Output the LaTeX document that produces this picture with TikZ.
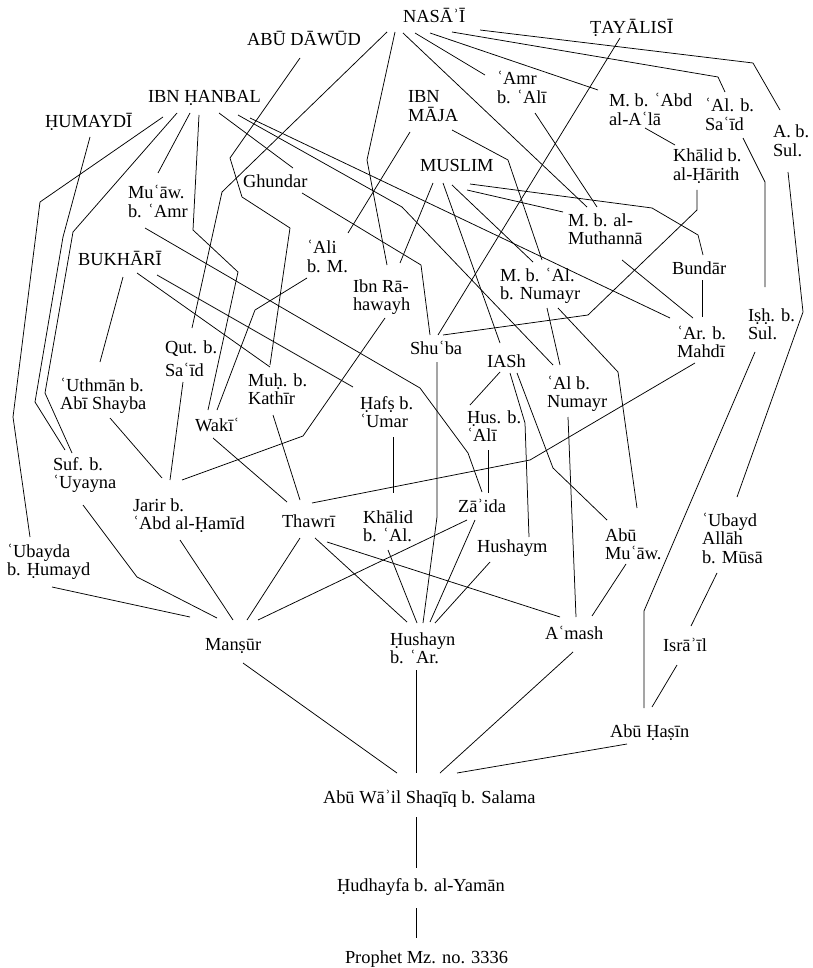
\documentclass[tikz,border=0pt]{standalone}
\usepackage{fontspec}
\setmainfont{Liberation Serif}
\usetikzlibrary{calc}
% invisible strut so every label's top edge sits a fixed 17pt above its first baseline
\newcommand\topstrut{\rule{0pt}{17pt}}
\begin{document}
\begin{tikzpicture}[x=1pt,y=-1pt,
  lbl/.style={anchor=north west,inner sep=0pt,outer sep=0pt,align=left,
              font=\fontsize{18.4}{18.5}\selectfont},
  link/.style={line width=0.75pt,line join=round}]
\useasboundingbox (0,0) rectangle (812,968);

% ---- transmitters and collectors ----
\node[lbl] (nasai)      at (403,6)   {\topstrut NASĀʾĪ};
\node[lbl] (tayalisi)   at (590,17)  {\topstrut ṬAYĀLISĪ};
\node[lbl] (abudawud)   at (247,29)  {\topstrut ABŪ DĀWŪD};
\node[lbl] (hanbal)     at (148,86)  {\topstrut IBN ḤANBAL};
\node[lbl] (humaydi)    at (45,111)  {\topstrut ḤUMAYDĪ};
\node[lbl] (majah)      at (408,86)  {\topstrut IBN\\MĀJA};
\node[lbl] (amr)        at (497,68)  {\topstrut ʿAmr\\b. ʿAlī};
\node[lbl] (abdala)     at (609,90)  {\topstrut M. b. ʿAbd\\al-Aʿlā};
\node[lbl] (alsaid)     at (705,95)  {\topstrut ʿAl. b.\\Saʿīd};
\node[lbl] (absul)      at (773,121) {\topstrut A. b.\\Sul.};
\node[lbl] (khalidh)    at (673,145) {\topstrut Khālid b.\\al-Ḥārith};
\node[lbl] (muslim)     at (420,155) {\topstrut MUSLIM};
\node[lbl] (ghundar)    at (243,171) {\topstrut Ghundar};
\node[lbl] (muaw)       at (128,182) {\topstrut Muʿāw.\\b. ʿAmr};
\node[lbl] (muthanna)   at (568,209) {\topstrut M. b. al-\\Muthannā};
\node[lbl] (alim)       at (307,237) {\topstrut ʿAli\\b. M.};
\node[lbl] (bukhari)    at (78,248)  {\topstrut BUKHĀRĪ};
\node[lbl] (rahawayh)   at (353,275) {\topstrut Ibn Rā-\\hawayh};
\node[lbl] (bundar)     at (672,257) {\topstrut Bundār};
\node[lbl] (mnumayr)    at (500,264) {\topstrut M. b. ʿAl.\\b. Numayr};
\node[lbl] (ishsul)     at (748,304) {\topstrut Iṣḥ. b.\\Sul.};
\node[lbl] (mahdi)      at (677,322) {\topstrut ʿAr. b.\\Mahdī};
\node[lbl] (shuba)      at (410,337) {\topstrut Shuʿba};
\node[lbl] (iash)       at (487,350) {\topstrut IASh};
\node[lbl] (alnumayr)   at (547,372) {\topstrut ʿAl b.\\Numayr};
\node[lbl] (qut)        at (165,336) {\topstrut Qut. b.\\[4.5pt]Saʿīd};
\node[lbl] (kathir)     at (248,369) {\topstrut Muḥ. b.\\Kathīr};
\node[lbl] (uthman)     at (60,374)  {\topstrut ʿUthmān b.\\Abī Shayba};
\node[lbl] (hafs)       at (360,392) {\topstrut Ḥafṣ b.\\ʿUmar};
\node[lbl] (husali)     at (467,406) {\topstrut Ḥus. b.\\ʿAlī};
\node[lbl] (waki)       at (195,414) {\topstrut Wakīʿ};
\node[lbl] (sufyan)     at (53,453)  {\topstrut Suf. b.\\ʿUyayna};
\node[lbl] (jarir)      at (133,494) {\topstrut Jarir b.\\ʿAbd al-Ḥamīd};
\node[lbl] (thawri)     at (282,510) {\topstrut Thawrī};
\node[lbl] (khalidal)   at (363,506) {\topstrut Khālid\\b. ʿAl.};
\node[lbl] (zaida)      at (458,495) {\topstrut Zāʾida};
\node[lbl] (hushaym)    at (477,535) {\topstrut Hushaym};
\node[lbl] (abumuaw)    at (605,524) {\topstrut Abū\\Muʿāw.};
\node[lbl] (ubaydallah) at (702,509) {\topstrut ʿUbayd\\Allāh\\b. Mūsā};
\node[lbl] (ubayda)     at (7,540)   {\topstrut ʿUbayda\\b. Ḥumayd};
\node[lbl] (mansur)     at (205,633) {\topstrut Manṣūr};
\node[lbl] (hushayn)    at (390,628) {\topstrut Ḥushayn\\b. ʿAr.};
\node[lbl] (amash)      at (545,622) {\topstrut Aʿmash};
\node[lbl] (israil)     at (663,634) {\topstrut Isrāʾīl};
\node[lbl] (abuhasin)   at (610,720) {\topstrut Abū Ḥaṣīn};
\node[lbl] (abuwail)    at (323,786) {\topstrut Abū Wāʾil Shaqīq b. Salama};
\node[lbl] (hudhayfa)   at (337,874) {\topstrut Ḥudhayfa b. al-Yamān};
\node[lbl] (prophet)    at (345,946) {\topstrut Prophet Mz. no. 3336};

% ---- chains of transmission ----
\draw[link] ($(hudhayfa.north west)+(79,34)$) -- ($(prophet.north west)+(71,-8)$);
\draw[link] ($(abuwail.north west)+(93,31)$) -- ($(hudhayfa.north west)+(79,-6)$);
\draw[link] ($(mansur.north west)+(38,30)$) -- ($(abuwail.north west)+(74,-13)$);
\draw[link] ($(hushayn.north west)+(26,42)$) -- ($(abuwail.north west)+(93,-13)$);
\draw[link] ($(amash.north west)+(28,30)$) -- ($(abuwail.north west)+(117,-13)$);
\draw[link] ($(abuhasin.north west)+(17,24)$) -- ($(abuwail.north west)+(134,-13)$);
\draw[link] ($(ishsul.north west)+(7,48)$) -- (644,611) -- ($(abuhasin.north west)+(34,-12)$);
\draw[link] ($(israil.north west)+(14,31)$) -- ($(abuhasin.north west)+(42,-13)$);
\draw[link] ($(ubaydallah.north west)+(15,64)$) -- ($(israil.north west)+(28,-8)$);
\draw[link] ($(absul.north west)+(15,51)$) -- (803,312) -- ($(ubaydallah.north west)+(35,-12)$);
\draw[link] ($(alsaid.north west)+(38,43)$) -- (765,182) -- ($(ishsul.north west)+(17,-17)$);
\draw[link] ($(nasai.north west)+(77,24)$) -- (753,63) -- ($(absul.north west)+(7,-11)$);
\draw[link] ($(nasai.north west)+(49,26)$) -- (718,77) -- ($(alsaid.north west)+(20,-3)$);
\draw[link] ($(nasai.north west)+(27,27)$) -- ($(abdala.north west)+(-11,0)$);
\draw[link] ($(nasai.north west)+(12,27)$) -- ($(amr.north west)+(-12,7)$);
\draw[link] ($(nasai.north west)+(0,27)$) -- ($(muthanna.north west)+(19,-2)$);
\draw[link] ($(amr.north west)+(38,45)$) -- ($(muthanna.north west)+(29,-2)$);
\draw[link] ($(nasai.north west)+(-8,26)$) -- (367,160) -- ($(rahawayh.north west)+(34,-10)$);
\draw[link] ($(nasai.north west)+(-16,26)$) -- (222,192) -- ($(qut.north west)+(27,-8)$);
\draw[link] ($(abdala.north west)+(36,38)$) -- ($(khalidh.north west)+(2,0)$);
\draw[link] ($(khalidh.north west)+(24,45)$) -- (697,210) -- (588,315) -- ($(shuba.north west)+(33,-2)$);
\draw[link] ($(tayalisi.north west)+(30,21)$) -- ($(shuba.north west)+(28,-2)$);
\draw[link] ($(ghundar.north west)+(59,22)$) -- (421,265) -- ($(shuba.north west)+(20,-2)$);
\draw[link] ($(hanbal.north west)+(71,27)$) -- ($(ghundar.north west)+(50,-3)$);
\draw[link] ($(abudawud.north west)+(53,29)$) -- (230,158) -- (242,197) -- (290,228) -- ($(kathir.north west)+(22,-4)$);
\draw[link] ($(hanbal.north west)+(51,29)$) -- (193,230) -- (238,272) -- ($(waki.north west)+(13,-4)$);
\draw[link] ($(alim.north west)+(0,41)$) -- (255,310) -- ($(waki.north west)+(22,-4)$);
\draw[link] ($(hanbal.north west)+(42,27)$) -- ($(muaw.north west)+(30,-9)$);
\draw[link] ($(hanbal.north west)+(29,27)$) -- (73,232) -- (45,393) -- ($(sufyan.north west)+(19,0)$);
\draw[link] ($(humaydi.north west)+(45,26)$) -- (63,237) -- (35,402) -- ($(sufyan.north west)+(12,-3)$);
\draw[link] ($(hanbal.north west)+(15,31)$) -- (40,202) -- (13,417) -- ($(ubayda.north west)+(23,-3)$);
\draw[link] ($(hanbal.north west)+(90,29)$) -- (402,207) -- ($(alnumayr.north west)+(6,-7)$);
\draw[link] ($(hanbal.north west)+(102,32)$) -- ($(mahdi.north west)+(-7,-4)$);
\draw[link] ($(majah.north west)+(2,46)$) -- ($(alim.north west)+(41,-4)$);
\draw[link] ($(majah.north west)+(44,44)$) -- (508,160) -- ($(mnumayr.north west)+(42,-4)$);
\draw[link] ($(muslim.north west)+(13,28)$) -- ($(rahawayh.north west)+(47,-12)$);
\draw[link] ($(muslim.north west)+(23,28)$) -- ($(iash.north west)+(13,-7)$);
\draw[link] ($(muslim.north west)+(32,30)$) -- ($(mnumayr.north west)+(33,-2)$);
\draw[link] ($(muslim.north west)+(50,29)$) -- (652,208) -- (698,235) -- ($(bundar.north west)+(31,-2)$);
\draw[link] ($(muslim.north west)+(47,35)$) -- ($(muthanna.north west)+(-5,3)$);
\draw[link] ($(muthanna.north west)+(54,51)$) -- ($(mahdi.north west)+(16,-4)$);
\draw[link] ($(bundar.north west)+(30,23)$) -- ($(mahdi.north west)+(25,-5)$);
\draw[link] ($(mahdi.north west)+(18,41)$) -- (530,460) -- ($(thawri.north west)+(30,-7)$);
\draw[link] ($(kathir.north west)+(25,46)$) -- ($(thawri.north west)+(18,-10)$);
\draw[link] ($(waki.north west)+(18,24)$) -- ($(thawri.north west)+(5,-8)$);
\draw[link] ($(bukhari.north west)+(45,29)$) -- ($(uthman.north west)+(40,-12)$);
\draw[link] ($(bukhari.north west)+(59,25)$) -- ($(kathir.north west)+(22,-2)$);
\draw[link] ($(bukhari.north west)+(79,27)$) -- ($(hafs.north west)+(-7,-5)$);
\draw[link] ($(muaw.north west)+(17,46)$) -- (420,388) -- (468,453) -- ($(zaida.north west)+(24,-3)$);
\draw[link] ($(qut.north west)+(18,46)$) -- ($(jarir.north west)+(37,-14)$);
\draw[link] ($(uthman.north west)+(50,44)$) -- ($(jarir.north west)+(29,-16)$);
\draw[link] ($(rahawayh.north west)+(32,43)$) -- (303,436) -- ($(jarir.north west)+(49,-14)$);
\draw[link] ($(jarir.north west)+(47,46)$) -- ($(mansur.north west)+(28,-13)$);
\draw[link] ($(sufyan.north west)+(30,52)$) -- (137,577) -- ($(mansur.north west)+(12,-15)$);
\draw[link] ($(ubayda.north west)+(45,47)$) -- ($(mansur.north west)+(-15,-16)$);
\draw[link] ($(thawri.north west)+(18,28)$) -- ($(mansur.north west)+(42,-13)$);
\draw[link] ($(zaida.north west)+(9,25)$) -- ($(mansur.north west)+(53,-13)$);
\draw[link] ($(thawri.north west)+(45,32)$) -- ($(amash.north west)+(15,-5)$);
\draw[link] ($(thawri.north west)+(33,28)$) -- ($(hushayn.north west)+(17,-6)$);
\draw[link] ($(khalidal.north west)+(25,44)$) -- ($(hushayn.north west)+(27,-5)$);
\draw[link] ($(hafs.north west)+(33,45)$) -- ($(khalidal.north west)+(30,-13)$);
\draw[link] ($(shuba.north west)+(27,25)$) -- (437,517) -- ($(hushayn.north west)+(33,-5)$);
\draw[link] ($(zaida.north west)+(17,25)$) -- ($(hushayn.north west)+(40,-6)$);
\draw[link] ($(hushaym.north west)+(13,27)$) -- ($(hushayn.north west)+(45,-5)$);
\draw[link] ($(iash.north west)+(13,22)$) -- ($(husali.north west)+(3,-1)$);
\draw[link] ($(iash.north west)+(23,23)$) -- (525,423) -- ($(hushaym.north west)+(52,2)$);
\draw[link] ($(iash.north west)+(30,23)$) -- (553,468) -- ($(abumuaw.north west)+(2,-4)$);
\draw[link] ($(husali.north west)+(21,44)$) -- ($(zaida.north west)+(30,-2)$);
\draw[link] ($(mnumayr.north west)+(47,44)$) -- ($(alnumayr.north west)+(13,-7)$);
\draw[link] ($(mnumayr.north west)+(58,44)$) -- (618,372) -- ($(abumuaw.north west)+(32,-16)$);
\draw[link] ($(alnumayr.north west)+(21,45)$) -- ($(amash.north west)+(31,-5)$);
\draw[link] ($(abumuaw.north west)+(21,40)$) -- ($(amash.north west)+(47,-6)$);
\end{tikzpicture}
\end{document}
